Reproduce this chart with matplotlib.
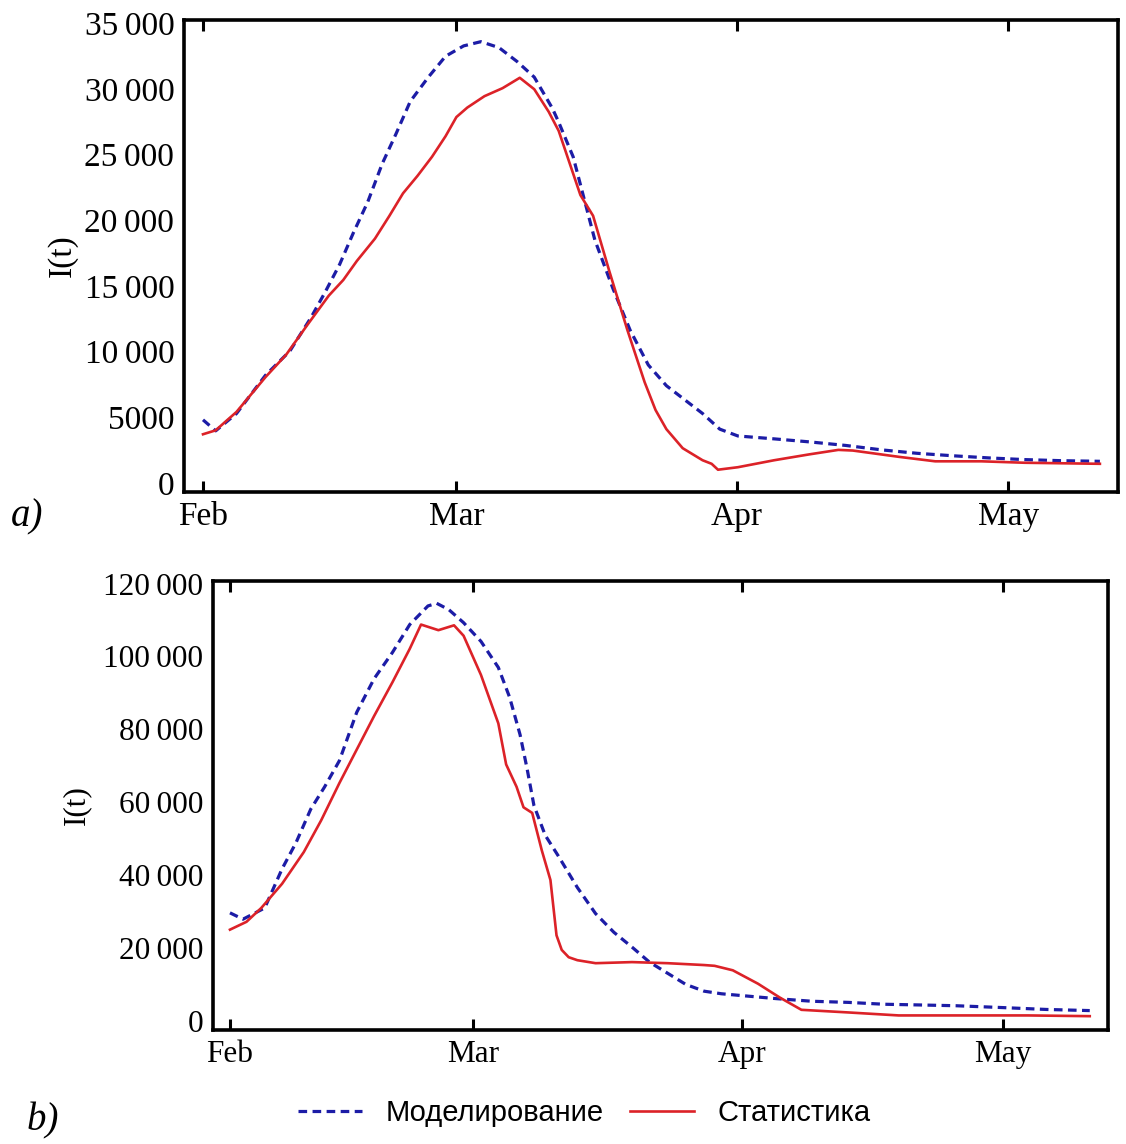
from datetime import datetime, timedelta

import matplotlib
matplotlib.use("Agg")
import matplotlib.dates as mdates
import matplotlib.pyplot as plt
from matplotlib.lines import Line2D
from matplotlib.ticker import FixedLocator, FuncFormatter

# Days counted from Feb 1.
a_model_days = [0, 1.4, 3.7, 6.9, 9.6, 11.9, 13.5, 15.1, 16.6, 18.2, 19.8, 21.3, 22.9,
                24.9, 26.8, 28.8, 30.7, 32.7, 34.7, 36.6, 38.6, 39.3, 40.9, 42.1,
                43.3, 45.3, 47.2, 49.2, 51.2, 53.2, 55.2, 57.1, 59.1, 63.1, 67, 71,
                75, 78.9, 82.9, 86.8, 90.8, 94.7, 99.1]
a_model_vals = [4800, 3960, 5280, 8190, 10040, 12550, 14530, 16640, 19020, 21390, 24300,
                26540, 29050, 30900, 32490, 33280, 33600, 33150, 32090, 30900, 28530,
                27470, 24830, 21660, 18490, 14790, 11620, 8980, 7400, 6340, 5280, 4090,
                3570, 3350, 3120, 2850, 2510, 2250, 2060, 1900, 1770, 1690, 1640]

a_stat_days = [0, 1.4, 3.7, 6.9, 9.2, 11.5, 13.9, 15.5, 17, 19, 20.6, 22.1, 23.7, 25.3,
               26.8, 28, 29.2, 31.1, 33.1, 35, 36.6, 38.2, 39.3, 41.7, 43.1, 44.9,
               46.9, 48.8, 50, 51.2, 53, 55.2, 56.2, 56.9, 59.1, 63.1, 67, 70.2, 71.8,
               76.9, 80.9, 86, 90.8, 99.1]
a_stat_vals = [3700, 4000, 5400, 8050, 9770, 12000, 14260, 15450, 16900, 18600, 20340,
               22050, 23380, 24830, 26400, 27860, 28580, 29450, 30060, 30850, 29980,
               28260, 26810, 21920, 20340, 16110, 11620, 7660, 5550, 4090, 2640, 1720,
               1450, 1000, 1190, 1720, 2170, 2510, 2460, 1980, 1640, 1640, 1530, 1450]

b_model_days = [0, 1.5, 4, 6, 7.6, 9.3, 10.9, 12.6, 14.6, 16.6, 18.7, 20.7, 22.8, 23.8,
                25.2, 26.9, 28.9, 30.9, 32.2, 33.4, 34.2, 35, 36.3, 37.8, 40, 42.1,
                44.2, 46.3, 48.3, 50.4, 52.5, 54.6, 56.6, 59, 62.9, 67, 71.2, 75.3,
                79.5, 83.6, 89, 94, 99]
b_model_vals = [29670, 27930, 31000, 41740, 48900, 58110, 64240, 71410, 84710, 93910,
                101070, 108750, 113860, 114580, 112840, 109260, 104140, 96980, 88800,
                78570, 69360, 59130, 50950, 45300, 36620, 29460, 24350, 20260, 16160,
                13090, 10020, 8180, 7470, 6960, 6140, 5420, 5110, 4600, 4400, 4190,
                3680, 3170, 2860]

b_stat_days = [0, 1.9, 3.6, 6, 8.5, 10.5, 12.6, 14.6, 16.6, 18.7, 20.7, 22, 24, 25.8,
               26.9, 28.9, 30.9, 31.8, 33, 33.8, 34.8, 35.9, 36.9, 37.6, 38.2, 39, 40,
               42.1, 46.3, 50.4, 54.6, 55.8, 57.9, 60.8, 63.3, 65.8, 71.2, 77, 83.6,
               91.9, 99]
b_stat_vals = [25060, 27210, 31000, 37650, 46340, 55040, 65270, 74480, 83680, 92890,
               102100, 108750, 107210, 108540, 105680, 94940, 81640, 70380, 64240,
               58620, 57080, 46850, 38670, 23500, 19500, 17500, 16680, 15860, 16160,
               15860, 15350, 15140, 13910, 10230, 6450, 3070, 2350, 1530, 1530, 1530,
               1330]

a_yticks = [0, 5000, 10000, 15000, 20000, 25000, 30000, 35000]
b_yticks = [0, 20000, 40000, 60000, 80000, 100000, 120000]
month_ticks = ["2019-02-01", "2019-03-01", "2019-04-01", "2019-05-01"]
labels = ["Моделирование", "Статистика"]

BASE = datetime(2019, 2, 1)
BLUE = "#1c1ca6"
RED = "#dc2228"
SERIF = ["Liberation Serif", "DejaVu Serif"]


def to_dates(days):
    return [BASE + timedelta(days=d) for d in days]


def fmt_num(v, pos):
    v = int(round(v))
    if abs(v) < 10000:
        return str(v)
    return f"{v:,}".replace(",", "\u2009")


def style_axes(ax, yticks, ylim, xlim, fs, label_x):
    ax.set_xlim(mdates.date2num(BASE + timedelta(days=xlim[0])),
                mdates.date2num(BASE + timedelta(days=xlim[1])))
    ax.set_ylim(*ylim)
    ax.xaxis.set_major_locator(FixedLocator(
        [mdates.date2num(datetime.fromisoformat(m)) for m in month_ticks]))
    ax.xaxis.set_major_formatter(mdates.DateFormatter("%b"))
    ax.yaxis.set_major_locator(FixedLocator(yticks))
    ax.yaxis.set_major_formatter(FuncFormatter(fmt_num))
    ax.tick_params(axis="x", direction="in", top=True, length=8, width=2.2, pad=7)
    ax.tick_params(axis="y", length=0, pad=7)
    for lab in ax.get_xticklabels() + ax.get_yticklabels():
        lab.set_fontfamily(SERIF)
        lab.set_fontsize(fs)
    for s in ax.spines.values():
        s.set_linewidth(2.6)
    ax.set_ylabel("I(t)", fontsize=fs, family=SERIF)
    ax.yaxis.set_label_coords(label_x, 0.5)


fig = plt.figure(figsize=(11.26, 11.44), dpi=100)
ax_a = fig.add_axes([0.1634, 0.5699, 0.8295, 0.4126])
ax_b = fig.add_axes([0.1892, 0.0997, 0.7948, 0.3925])

dash = (0, (2.7, 1.7))

ax_a.plot(to_dates(a_model_days), a_model_vals, color=BLUE, lw=2.3, ls=dash)
ax_a.plot(to_dates(a_stat_days), a_stat_vals, color=RED, lw=1.9)
style_axes(ax_a, a_yticks, (-700, 35250), (-2.1, 101.1), 24, -0.114)

ax_b.plot(to_dates(b_model_days), b_model_vals, color=BLUE, lw=2.3, ls=dash)
ax_b.plot(to_dates(b_stat_days), b_stat_vals, color=RED, lw=1.9)
style_axes(ax_b, b_yticks, (-2450, 120720), (-1.95, 101.1), 22.5, -0.136)

fig.text(0.010, 1 - 517 / 1144, "a)", fontsize=28, style="italic", family=SERIF,
         va="center", ha="left")
fig.text(0.024, 1 - 1121 / 1144, "b)", fontsize=28, style="italic", family=SERIF,
         va="center", ha="left")

handles = [Line2D([], [], color=BLUE, lw=2.3, ls=dash),
           Line2D([], [], color=RED, lw=1.9)]
fig.legend(handles, labels, loc="center", bbox_to_anchor=(0.519, 1 - 1113 / 1144),
           ncol=2, frameon=False, handlelength=2.2, handletextpad=0.8,
           columnspacing=0.9, prop={"family": "Liberation Sans", "size": 21})

fig.savefig("out.png", dpi=100)
